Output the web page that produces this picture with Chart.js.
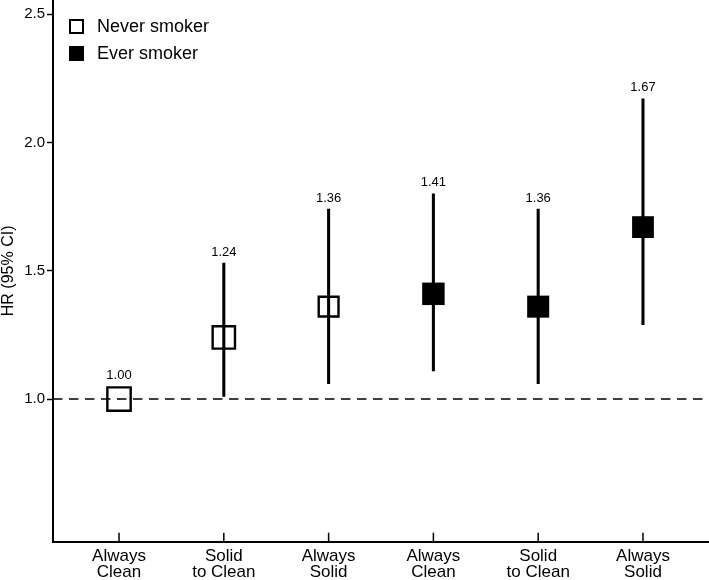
<!DOCTYPE html>
<html>
<head>
<meta charset="utf-8">
<script src="https://cdn.jsdelivr.net/npm/chart.js@4.4.1/dist/chart.umd.min.js"></script>
<style>
  html, body { margin: 0; padding: 0; background: #fff; }
  #chdiv { width: 709px; height: 580px; }
</style>
</head>
<body>
<div id="chdiv">
  <canvas id="hrchart" width="709" height="580"></canvas>
</div>
<script>
// data
const categories = [['Always', 'Clean'], ['Solid', 'to Clean'], ['Always', 'Solid'],
                    ['Always', 'Clean'], ['Solid', 'to Clean'], ['Always', 'Solid']];
const groups = ['Never smoker', 'Never smoker', 'Never smoker', 'Ever smoker', 'Ever smoker', 'Ever smoker'];
const hr = [1.00, 1.24, 1.36, 1.41, 1.36, 1.67];
const lower = [1.00, 1.01, 1.06, 1.11, 1.06, 1.29];
const upper = [1.00, 1.53, 1.74, 1.80, 1.74, 2.17];
const yTicks = [1.0, 1.5, 2.0, 2.5];
const refValue = 1.0;

// marker radius per point (squares differ slightly in the figure)
const markerRadius = [16.5, 15.8, 14, 15.9, 15.6, 15.4];

Chart.defaults.font.family = '"Liberation Sans", Arial, sans-serif';
Chart.defaults.color = '#000';

const idx = hr.map((v, i) => i);

// dashed reference line at HR = 1 and inward x ticks
const refLine = {
    id: 'refLine',
    beforeDatasetsDraw(chart) {
        const {ctx, chartArea, scales} = chart;
        const y = scales.y.getPixelForValue(refValue);
        ctx.save();
        ctx.strokeStyle = '#000';
        ctx.lineWidth = 1.5;
        ctx.setLineDash([9.5, 6.5]);
        ctx.beginPath();
        ctx.moveTo(chartArea.left, y);
        ctx.lineTo(chartArea.right, y);
        ctx.stroke();
        ctx.setLineDash([]);
        idx.forEach(i => {
            const x = scales.x.getPixelForValue(i);
            ctx.beginPath();
            ctx.moveTo(x, chartArea.bottom);
            ctx.lineTo(x, chartArea.bottom - 9);
            ctx.stroke();
        });
        ctx.restore();
    }
};

// value labels above each estimate
const valueLabels = {
    id: 'valueLabels',
    afterDatasetsDraw(chart) {
        const {ctx, scales} = chart;
        ctx.save();
        ctx.fillStyle = '#000';
        ctx.font = '13px "Liberation Sans", Arial, sans-serif';
        ctx.textAlign = 'center';
        ctx.textBaseline = 'middle';
        idx.forEach(i => {
            const x = scales.x.getPixelForValue(i);
            const boxTop = scales.y.getPixelForValue(hr[i]) - markerRadius[i] * Math.SQRT1_2 - 1;
            const top = Math.min(scales.y.getPixelForValue(upper[i]), boxTop);
            ctx.fillText(hr[i].toFixed(2), x, top - 11);
        });
        ctx.restore();
    }
};

// legend in the upper left corner
const cornerLegend = {
    id: 'cornerLegend',
    afterDraw(chart) {
        const {ctx} = chart;
        ctx.save();
        ctx.strokeStyle = '#000';
        ctx.fillStyle = '#000';
        ctx.lineWidth = 2;
        ctx.strokeRect(70, 20, 13, 13);
        ctx.fillRect(69, 46, 15, 15);
        ctx.font = '18px "Liberation Sans", Arial, sans-serif';
        ctx.textBaseline = 'middle';
        ctx.fillText('Never smoker', 97, 27);
        ctx.fillText('Ever smoker', 97, 54);
        ctx.restore();
    }
};

new Chart(document.getElementById('hrchart').getContext('2d'), {
    type: 'bar',
    data: {
        datasets: [
            {
                type: 'scatter',
                label: 'HR',
                data: idx.map(i => ({x: i, y: hr[i]})),
                pointStyle: 'rect',
                pointRadius: markerRadius,
                pointHoverRadius: markerRadius,
                pointBackgroundColor: groups.map(g => g === 'Ever smoker' ? '#000' : 'rgba(0,0,0,0)'),
                pointBorderColor: '#000',
                pointBorderWidth: groups.map(g => g === 'Ever smoker' ? 0 : 2.4),
                clip: false,
                order: 0
            },
            {
                type: 'bar',
                label: '95% CI',
                data: idx.map(i => ({x: i, y: [lower[i], upper[i]]})),
                backgroundColor: '#000',
                borderWidth: 0,
                barThickness: 2.4,
                order: 1
            }
        ]
    },
    options: {
        responsive: false,
        animation: false,
        layout: {padding: 0, autoPadding: false},
        plugins: {
            legend: {display: false},
            tooltip: {enabled: false}
        },
        scales: {
            x: {
                type: 'linear',
                min: -0.63,
                max: 5.63,
                offset: false,
                border: {color: '#000', width: 2},
                grid: {display: true, drawOnChartArea: false, drawTicks: false},
                afterBuildTicks: (scale) => { scale.ticks = idx.map(v => ({value: v})); },
                afterFit: (scale) => { scale.height = 38.3; scale.paddingLeft = 0; scale.paddingRight = 0; },
                ticks: {
                    autoSkip: false,
                    maxRotation: 0,
                    padding: 6,
                    font: {size: 17, lineHeight: 0.98},
                    color: '#000',
                    callback: (v) => categories[v]
                }
            },
            y: {
                type: 'linear',
                min: 0.444,
                max: 2.555,
                border: {color: '#000', width: 2},
                grid: {drawOnChartArea: false, drawTicks: true, tickLength: 6, tickColor: '#000', tickWidth: 1.5},
                afterBuildTicks: (scale) => { scale.ticks = yTicks.map(v => ({value: v})); },
                afterFit: (scale) => { scale.width = 53; scale.paddingTop = 0; scale.paddingBottom = 0; },
                ticks: {
                    padding: 2,
                    font: {size: 15},
                    color: '#000',
                    callback: (v) => Number(v).toFixed(1)
                },
                title: {
                    display: true,
                    text: 'HR (95% CI)',
                    color: '#000',
                    font: {size: 16, lineHeight: 1.1},
                    padding: 0
                }
            }
        }
    },
    plugins: [refLine, valueLabels, cornerLegend]
});
</script>
</body>
</html>
